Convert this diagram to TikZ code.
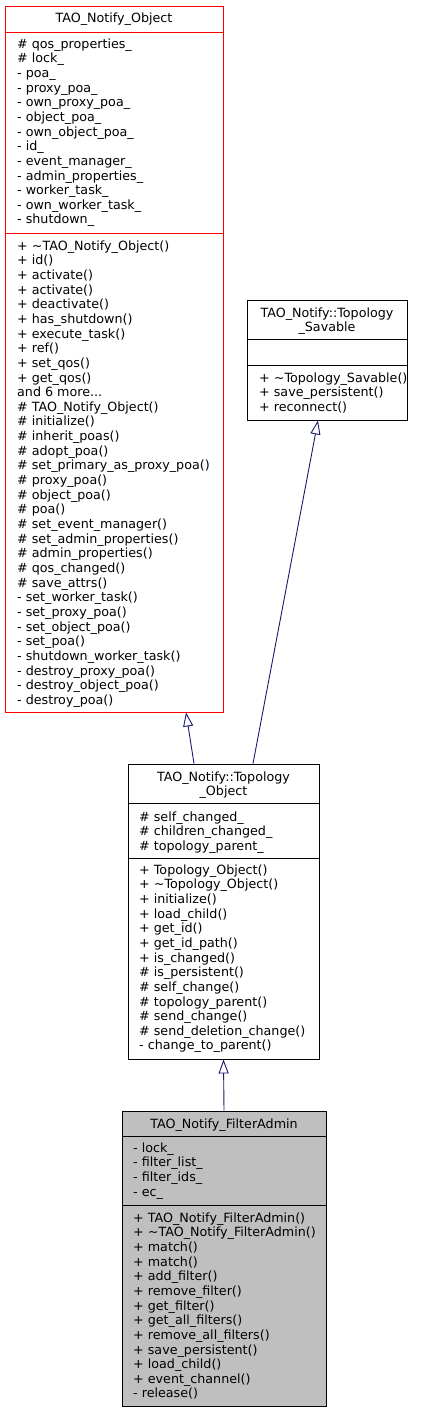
\documentclass[tikz,border=0pt]{standalone}
\usepackage{fontspec}
\setmainfont{DejaVu Sans}
\usetikzlibrary{arrows.meta}
\definecolor{edgeblue}{HTML}{191970}
\definecolor{boxgray}{HTML}{BFBFBF}
\tikzset{
  classbox/.style={draw=black, line width=0.9pt, inner sep=0pt, fill=white},
  member/.style={anchor=north west, align=left, inner sep=0pt, font={\fontsize{12.7}{14.65}\selectfont}},
  ctitle/.style={anchor=north, align=center, inner sep=0pt, font={\fontsize{12.7}{14.65}\selectfont}},
  inherit/.style={draw=edgeblue, line width=0.9pt, -{Triangle[open,length=14pt,width=10pt]}},
}
\begin{document}
\begin{tikzpicture}[x=1pt,y=-1pt]
  \useasboundingbox (0,0) rectangle (424,1413);
  % class boxes
  \node[classbox, draw=red, minimum width=218, minimum height=706] (obj) at (114,359) {};
  \node[classbox, minimum width=160, minimum height=120] (sav) at (327,360) {};
  \node[classbox, minimum width=191, minimum height=295] (topo) at (223.5,911.5) {};
  \node[classbox, fill=boxgray, minimum width=204, minimum height=295] (admin) at (224,1258.5) {};
  % compartments
  \draw[red, line width=0.9pt] (obj.west |- 0,32) -- (obj.east |- 0,32);
  \draw[red, line width=0.9pt] (obj.west |- 0,233) -- (obj.east |- 0,233);
  \draw[line width=0.9pt] (sav.west |- 0,339) -- (sav.east |- 0,339);
  \draw[line width=0.9pt] (sav.west |- 0,365) -- (sav.east |- 0,365);
  \draw[line width=0.9pt] (topo.west |- 0,803) -- (topo.east |- 0,803);
  \draw[line width=0.9pt] (topo.west |- 0,858) -- (topo.east |- 0,858);
  \draw[line width=0.9pt] (admin.west |- 0,1136) -- (admin.east |- 0,1136);
  \draw[line width=0.9pt] (admin.west |- 0,1205) -- (admin.east |- 0,1205);
  % TAO_Notify_Object
  \node[ctitle] (obj-name) at (114,12.2) {\strut TAO\_Notify\_Object};
  \node[member] (obj-attr) at (17,37.7) {\strut\# qos\_properties\_\\\# lock\_\\- poa\_\\- proxy\_poa\_\\- own\_proxy\_poa\_\\- object\_poa\_\\- own\_object\_poa\_\\- id\_\\- event\_manager\_\\- admin\_properties\_\\- worker\_task\_\\- own\_worker\_task\_\\- shutdown\_};
  \node[member] (obj-ops) at (17,239.7) {\strut+ \textasciitilde TAO\_Notify\_Object()\\+ id()\\+ activate()\\+ activate()\\+ deactivate()\\+ has\_shutdown()\\+ execute\_task()\\+ ref()\\+ set\_qos()\\+ get\_qos()\\and 6 more...\\\# TAO\_Notify\_Object()\\\# initialize()\\\# inherit\_poas()\\\# adopt\_poa()\\\# set\_primary\_as\_proxy\_poa()\\\# proxy\_poa()\\\# object\_poa()\\\# poa()\\\# set\_event\_manager()\\\# set\_admin\_properties()\\\# admin\_properties()\\\# qos\_changed()\\\# save\_attrs()\\- set\_worker\_task()\\- set\_proxy\_poa()\\- set\_object\_poa()\\- set\_poa()\\- shutdown\_worker\_task()\\- destroy\_proxy\_poa()\\- destroy\_object\_poa()\\- destroy\_poa()};
  % TAO_Notify::Topology_Savable
  \node[ctitle] (sav-name) at (327,306.7) {\strut TAO\_Notify::Topology\\\_Savable};
  \node[member] (sav-ops) at (259,371.7) {\strut+ \textasciitilde Topology\_Savable()\\+ save\_persistent()\\+ reconnect()};
  % TAO_Notify::Topology_Object
  \node[ctitle] (topo-name) at (223.5,770.7) {\strut TAO\_Notify::Topology\\\_Object};
  \node[member] (topo-attr) at (139,810.7) {\strut\# self\_changed\_\\\# children\_changed\_\\\# topology\_parent\_};
  \node[member] (topo-ops) at (139,863.7) {\strut+ Topology\_Object()\\+ \textasciitilde Topology\_Object()\\+ initialize()\\+ load\_child()\\+ get\_id()\\+ get\_id\_path()\\+ is\_changed()\\\# is\_persistent()\\\# self\_change()\\\# topology\_parent()\\\# send\_change()\\\# send\_deletion\_change()\\- change\_to\_parent()};
  % TAO_Notify_FilterAdmin
  \node[ctitle] (admin-name) at (224,1117.7) {\strut TAO\_Notify\_FilterAdmin};
  \node[member] (admin-attr) at (133,1141.7) {\strut- lock\_\\- filter\_list\_\\- filter\_ids\_\\- ec\_};
  \node[member] (admin-ops) at (133,1211.7) {\strut+ TAO\_Notify\_FilterAdmin()\\+ \textasciitilde TAO\_Notify\_FilterAdmin()\\+ match()\\+ match()\\+ add\_filter()\\+ remove\_filter()\\+ get\_filter()\\+ get\_all\_filters()\\+ remove\_all\_filters()\\+ save\_persistent()\\+ load\_child()\\+ event\_channel()\\- release()};
  % inheritance
  \begin{scope}[inherit]
    \draw ([xshift=-29.5pt]topo.north) to ([xshift=72pt]obj.south);
    \draw ([xshift=29.5pt]topo.north) to ([xshift=-9pt]sav.south);
    \draw (admin.north) to (topo.south);
  \end{scope}
\end{tikzpicture}
\end{document}
